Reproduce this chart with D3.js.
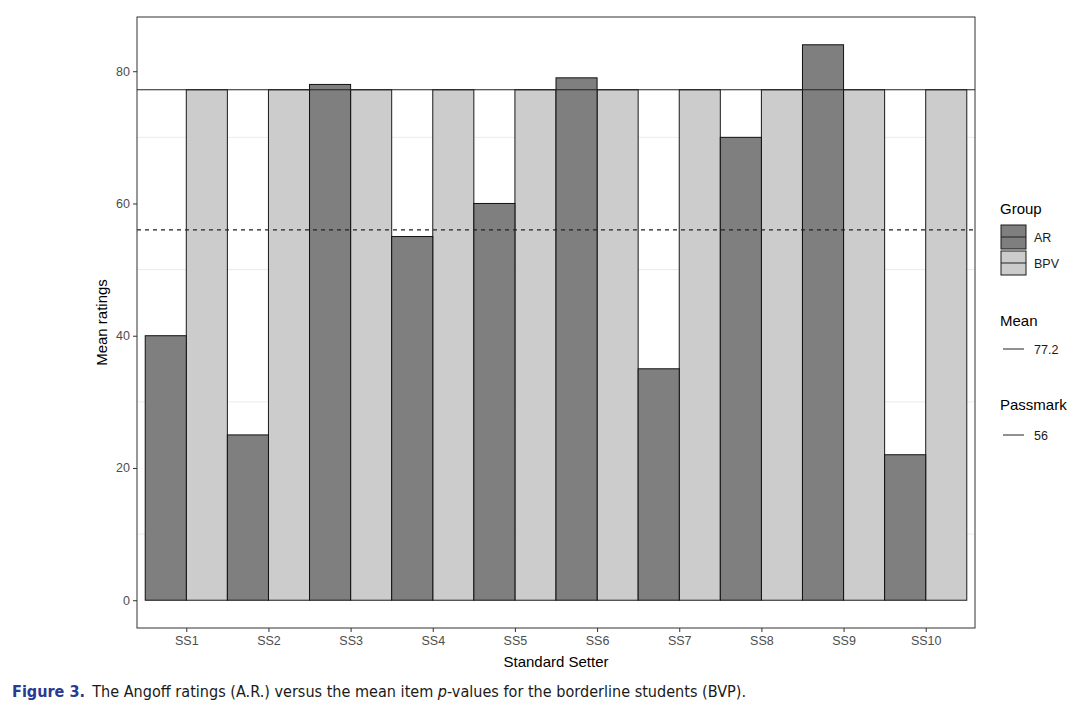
<!DOCTYPE html>
<html><head><meta charset="utf-8">
<script src="https://cdn.jsdelivr.net/npm/d3@7"></script>
<style>body{margin:0;background:#fff}svg{display:block}</style>
</head><body>
<svg id="chart" width="1083" height="716"></svg>
<script>
const setters = ["SS1","SS2","SS3","SS4","SS5","SS6","SS7","SS8","SS9","SS10"];
const groups = ["AR","BVP"];
const groupLabels = ["AR","BPV"];
const arValues = [40,25,78,55,60,79,35,70,84,22];
const bvpValues = [77.2,77.2,77.2,77.2,77.2,77.2,77.2,77.2,77.2,77.2];
const meanValue = 77.2;
const passmark = 56;
const yTicks = [0,20,40,60,80];
const yMinor = [10,30,50,70];
const groupFill = {AR:"#7f7f7f", BVP:"#cccccc"};

const svg = d3.select("#chart");
const L=137, R=975, T=17, B=628;
const font = "Liberation Sans, Arial, sans-serif";

const x = d3.scaleLinear().domain([0.4, setters.length+0.6]).range([L,R]);
const y = d3.scaleLinear().domain([-4.2, 88.2]).range([B,T]);
const xc = i => x(i+1);
const bw = x(1.5)-x(1);

svg.append("rect").attr("x",L).attr("y",T).attr("width",R-L).attr("height",B-T).attr("fill","#fff");
svg.append("g").selectAll("line").data(yMinor).join("line")
  .attr("x1",L).attr("x2",R).attr("y1",d=>y(d)).attr("y2",d=>y(d))
  .attr("stroke","#ebebeb").attr("stroke-width",1);

const rows = setters.map((s,i)=>({s,i,AR:arValues[i],BVP:bvpValues[i]}));

svg.append("g").selectAll("rect").data(rows).join("rect")
  .attr("x",d=>xc(d.i)).attr("width",bw)
  .attr("y",d=>y(d.BVP)).attr("height",d=>y(0)-y(d.BVP))
  .attr("fill",groupFill.BVP).attr("stroke","#1a1a1a").attr("stroke-width",1);
svg.append("g").selectAll("rect").data(rows).join("rect")
  .attr("x",d=>xc(d.i)-bw).attr("width",bw)
  .attr("y",d=>y(d.AR)).attr("height",d=>y(0)-y(d.AR))
  .attr("fill",groupFill.AR).attr("stroke","#111").attr("stroke-width",1);

svg.append("line").attr("x1",L).attr("x2",R).attr("y1",y(meanValue)).attr("y2",y(meanValue))
  .attr("stroke","#222").attr("stroke-width",1.1);
svg.append("line").attr("x1",L).attr("x2",R).attr("y1",y(passmark)).attr("y2",y(passmark))
  .attr("stroke","#222").attr("stroke-width",1.1).attr("stroke-dasharray","4,4");

svg.append("rect").attr("x",L).attr("y",T).attr("width",R-L).attr("height",B-T)
  .attr("fill","none").attr("stroke","#333").attr("stroke-width",1);

const yAxis = svg.append("g").attr("transform",`translate(${L},0)`)
  .call(d3.axisLeft(y).tickValues(yTicks).tickSize(4).tickPadding(3));
yAxis.select(".domain").remove();
yAxis.selectAll("line").attr("stroke","#333");
yAxis.selectAll("text").attr("fill","#4d4d4d").style("font-family",font).style("font-size","12.5px");

const xAxis = svg.append("g").attr("transform",`translate(0,${B})`)
  .call(d3.axisBottom(x).tickValues(d3.range(1,setters.length+1)).tickFormat(d=>setters[d-1]).tickSize(4).tickPadding(4));
xAxis.select(".domain").remove();
xAxis.selectAll("line").attr("stroke","#333");
xAxis.selectAll("text").attr("fill","#4d4d4d").style("font-family",font).style("font-size","12.5px");

svg.append("text").attr("transform",`translate(107,${(T+B)/2}) rotate(-90)`).attr("text-anchor","middle")
  .style("font-family",font).style("font-size","15px").attr("fill","#000").text("Mean ratings");
svg.append("text").attr("x",(L+R)/2).attr("y",667).attr("text-anchor","middle")
  .style("font-family",font).style("font-size","15px").attr("fill","#000").text("Standard Setter");

const lg = svg.append("g");
const lx = 1001;
lg.append("text").attr("x",lx-1).attr("y",214).style("font-family",font).style("font-size","15px").text("Group");
groups.forEach((g,k)=>{
  const cy = 237 + k*26;
  lg.append("rect").attr("x",lx).attr("y",cy-12).attr("width",25).attr("height",24)
    .attr("fill",groupFill[g]).attr("stroke","#1a1a1a").attr("stroke-width",1);
  lg.append("line").attr("x1",lx).attr("x2",lx+25).attr("y1",cy).attr("y2",cy).attr("stroke","#222");
  lg.append("text").attr("x",lx+33).attr("y",cy+4.5).style("font-family",font).style("font-size","12.5px").attr("fill","#1a1a1a").text(groupLabels[k]);
});
const extra = [{title:"Mean", label:String(meanValue), ty:326, ly:349},{title:"Passmark", label:String(passmark), ty:410, ly:435}];
extra.forEach(e=>{
  lg.append("text").attr("x",lx-1).attr("y",e.ty).style("font-family",font).style("font-size","15px").text(e.title);
  lg.append("line").attr("x1",lx+2).attr("x2",lx+23).attr("y1",e.ly).attr("y2",e.ly).attr("stroke","#222");
  lg.append("text").attr("x",lx+33).attr("y",e.ly+4.5).style("font-family",font).style("font-size","12.5px").attr("fill","#1a1a1a").text(e.label);
});

const cap = svg.append("text").attr("x",12).attr("y",697)
  .style("font-family","'DejaVu Sans Condensed', 'Liberation Sans Narrow', Arial, sans-serif").style("font-size","15.5px")
  .attr("textLength",734).attr("lengthAdjust","spacingAndGlyphs");
cap.append("tspan").attr("fill","#2b3a8f").style("font-weight","bold").text("Figure 3.");
cap.append("tspan").attr("fill","#1a1a1a").text("\u2002The Angoff ratings (A.R.) versus the mean item ");
cap.append("tspan").attr("fill","#1a1a1a").style("font-style","italic").text("p");
cap.append("tspan").attr("fill","#1a1a1a").text("-values for the borderline students (BVP).");
</script>
</body></html>
